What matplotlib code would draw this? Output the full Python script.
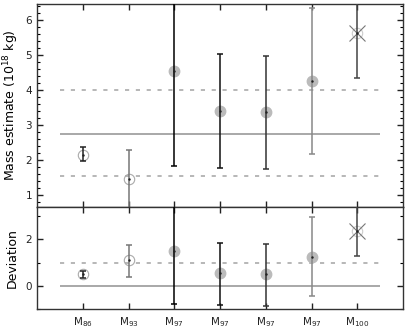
import matplotlib
matplotlib.use("Agg")
import matplotlib.pyplot as plt
from matplotlib.ticker import MultipleLocator

# categories / values
labels = ["M$_{86}$", "M$_{93}$", "M$_{97}$", "M$_{97}$", "M$_{97}$", "M$_{97}$", "M$_{100}$"]
xpos = [1, 2, 3, 4, 5, 6, 7]

mass = [2.15, 1.45, 4.55, 3.40, 3.37, 4.27, 5.63]
mass_lo = [1.97, 0.30, 1.83, 1.78, 1.75, 2.18, 4.33]
mass_hi = [2.37, 2.28, 7.50, 5.02, 4.98, 6.35, 7.50]

dev = [0.50, 1.10, 1.50, 0.55, 0.50, 1.25, 2.35]
dev_lo = [0.35, 0.40, -0.80, -0.82, -0.85, -0.45, 1.30]
dev_hi = [0.65, 1.78, 4.00, 1.85, 1.82, 2.95, 4.00]

bar_colors = ["#222222", "#777777", "#000000", "#111111", "#333333", "#888888", "#444444"]
styles = ["open", "open", "fill", "fill", "fill", "fill", "cross"]

mass_mean, mass_band = 2.75, [1.55, 4.0]
dev_mean, dev_band = 0.0, [1.0]

plt.rcParams['font.family'] = ['DejaVu Sans']
plt.rcParams['font.size'] = 7.5

fig = plt.figure(figsize=(4.07, 3.30), dpi=100)
ax1 = fig.add_axes([0.0909, 0.3727, 0.8993, 0.6152])
ax2 = fig.add_axes([0.0909, 0.0636, 0.8993, 0.3091])


def draw(ax, val, lo, hi, mean, band):
    ax.hlines(mean, 0.5, 7.5, color="#999999", lw=1.2)
    for b in band:
        ax.hlines(b, 0.5, 7.5, color="#aaaaaa", lw=1.2, linestyles=(0, (2.5, 4)))
    for i in range(len(xpos)):
        x, v = xpos[i], val[i]
        st = styles[i]
        if st == "fill":
            ax.plot(x, v, "o", ms=7.5, mfc="#bbbbbb", mec="#bbbbbb", zorder=2)
        elif st == "open":
            ax.plot(x, v, "o", ms=7.5, mfc="none", mec="#aaaaaa", mew=0.8, zorder=2)
        else:
            ax.plot(x, v, "o", ms=7.5, mfc="none", mec="#cccccc", mew=0.8, zorder=2)
            ax.plot(x, v, "x", ms=11, mec="#777777", mew=0.8, zorder=2)
        ax.errorbar(x, v, yerr=[[v - lo[i]], [hi[i] - v]], fmt="none",
                    ecolor=bar_colors[i], elinewidth=1.1, capsize=2.2, capthick=1.1, zorder=3)
        ax.plot(x, v, ".", ms=1.5, color="#222222", zorder=4)
    ax.set_xlim(0, 8)
    ax.set_xticks(xpos)
    ax.tick_params(direction="in", top=True, right=True, length=4, width=1, colors="#222222")
    ax.tick_params(which="minor", direction="in", right=True, length=2.5, width=0.8)
    for s in ax.spines.values():
        s.set_color("#333333")
        s.set_linewidth(1.0)


draw(ax1, mass, mass_lo, mass_hi, mass_mean, mass_band)
ax1.set_ylim(0.65, 6.46)
ax1.yaxis.set_major_locator(MultipleLocator(1))
ax1.yaxis.set_minor_locator(MultipleLocator(0.2))
ax1.set_xticklabels([])
ax1.set_ylabel("Mass estimate (10$^{18}$ kg)", fontsize=9, labelpad=3)

draw(ax2, dev, dev_lo, dev_hi, dev_mean, dev_band)
ax2.set_ylim(-1.0, 3.4)
ax2.yaxis.set_major_locator(MultipleLocator(2))
ax2.yaxis.set_minor_locator(MultipleLocator(1))
ax2.set_xticklabels(labels)
ax2.tick_params(axis="x", pad=4.5)
ax2.set_ylabel("Deviation", fontsize=9, labelpad=5)

fig.savefig("out.png", dpi=100)
